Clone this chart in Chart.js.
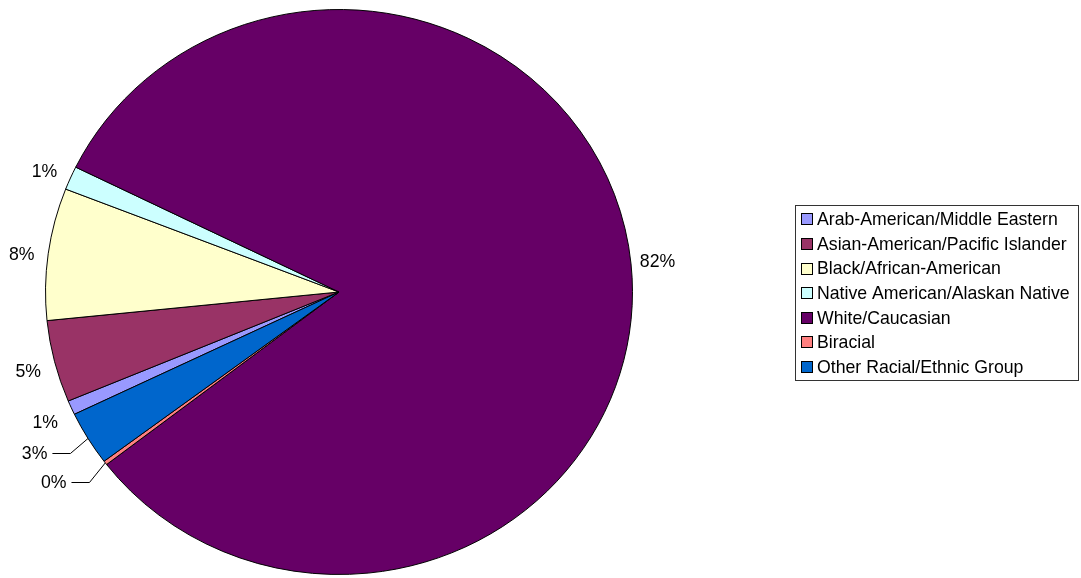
<!DOCTYPE html>
<html>
<head>
<meta charset="utf-8">
<script src="https://cdn.jsdelivr.net/npm/chart.js@4.4.1/dist/chart.umd.min.js"></script>
<style>
  html, body { margin: 0; padding: 0; background: #fff; }
  canvas { display: block; }
</style>
</head>
<body>
<canvas id="c" width="1081" height="578"></canvas>
<script>
// Racial / ethnic composition (percent of total)
const categories = [
  'Arab-American/Middle Eastern',
  'Asian-American/Pacific Islander',
  'Black/African-American',
  'Native American/Alaskan Native',
  'White/Caucasian',
  'Biracial',
  'Other Racial/Ethnic Group'
];
const percentages = [0.82, 4.69, 7.55, 1.35, 82.26, 0.23, 3.10];

// Slice fill colours, in category order
const sliceColors = ['#9999FF', '#993366', '#FFFFCC', '#CCFFFF', '#660066', '#FF8080', '#0066CC'];

const FONT = '17.7px "Liberation Sans", Arial, sans-serif';
const SQUASH = 282.5 / 293.5;   // pie is drawn slightly oval (flattened vertically)

const pctText = v => Math.round(v) + '%';

// Flatten the pie vertically around its centre
const ovalPie = {
  id: 'ovalPie',
  beforeDatasetsDraw(chart) {
    const arc = chart.getDatasetMeta(0).data[0];
    const ctx = chart.ctx;
    ctx.save();
    ctx.translate(arc.x, arc.y);
    ctx.scale(1, SQUASH);
    ctx.translate(-arc.x, -arc.y);
  },
  afterDatasetsDraw(chart) {
    chart.ctx.restore();
  }
};

// Percentage labels outside each slice, with leader lines where moved aside
const sliceLabels = {
  id: 'sliceLabels',
  afterDraw(chart, args, opts) {
    const ctx = chart.ctx;
    const meta = chart.getDatasetMeta(0);
    ctx.save();
    ctx.font = FONT;
    ctx.fillStyle = '#000';
    ctx.strokeStyle = '#000';
    ctx.lineWidth = 1;
    ctx.textBaseline = 'middle';
    ctx.textAlign = 'center';
    meta.data.forEach((arc, i) => {
      const mid = (arc.startAngle + arc.endAngle) / 2;
      const ex = arc.x + Math.cos(mid) * arc.outerRadius;
      const ey = arc.y + Math.sin(mid) * arc.outerRadius * SQUASH;
      const dir = Math.atan2(ey - arc.y, ex - arc.x);
      const text = pctText(percentages[i]);
      const [nx, ny] = opts.nudges[i];
      const lx = arc.x + Math.cos(dir) * opts.distance + nx;
      const ly = arc.y + Math.sin(dir) * opts.distance + ny;
      if (opts.leaders[i]) {
        const w = ctx.measureText(text).width;
        const sx = lx + w / 2 + 5;
        ctx.beginPath();
        ctx.moveTo(sx, Math.round(ly) + 0.5);
        ctx.lineTo(sx + 18, Math.round(ly) + 0.5);
        ctx.lineTo(ex, ey);
        ctx.stroke();
      }
      ctx.fillText(text, lx, ly + 1);
    });
    ctx.restore();
  }
};

// Boxed legend on the right
const boxLegend = {
  id: 'boxLegend',
  afterDraw(chart, args, opts) {
    const ctx = chart.ctx;
    ctx.save();
    ctx.strokeStyle = '#333';
    ctx.lineWidth = 1;
    ctx.strokeRect(opts.x + 0.5, opts.y + 0.5, opts.w, opts.h);
    ctx.font = FONT;
    ctx.textBaseline = 'middle';
    ctx.textAlign = 'left';
    categories.forEach((name, i) => {
      const cy = opts.firstRow + i * opts.rowStep;
      ctx.fillStyle = sliceColors[i];
      ctx.fillRect(opts.x + 6.5, Math.round(cy) - 5.5, 11, 11);
      ctx.strokeStyle = '#000';
      ctx.strokeRect(opts.x + 6.5, Math.round(cy) - 5.5, 11, 11);
      ctx.fillStyle = '#000';
      ctx.fillText(name, opts.x + 22, cy + 1);
    });
    ctx.restore();
  }
};

new Chart(document.getElementById('c'), {
  type: 'pie',
  data: {
    labels: categories,
    datasets: [{
      data: percentages,
      backgroundColor: sliceColors,
      borderColor: '#000',
      borderWidth: 1,
      clip: false
    }]
  },
  options: {
    responsive: false,
    animation: false,
    events: [],
    rotation: 244.35,
    radius: 293.5,
    layout: { padding: { left: 0, right: 403, top: 6, bottom: 0 } },
    plugins: {
      legend: { display: false },
      tooltip: { enabled: false },
      sliceLabels: {
        distance: 320,
        nudges: [[0, 3], [0, 3], [0, 4], [0, 4], [0, 0], [-27, 1], [-28, 0]],
        leaders: [false, false, false, false, false, true, true]
      },
      boxLegend: { x: 795, y: 205, w: 283, h: 175, firstRow: 219.3, rowStep: 24.6 }
    }
  },
  plugins: [ovalPie, sliceLabels, boxLegend]
});
</script>
</body>
</html>
